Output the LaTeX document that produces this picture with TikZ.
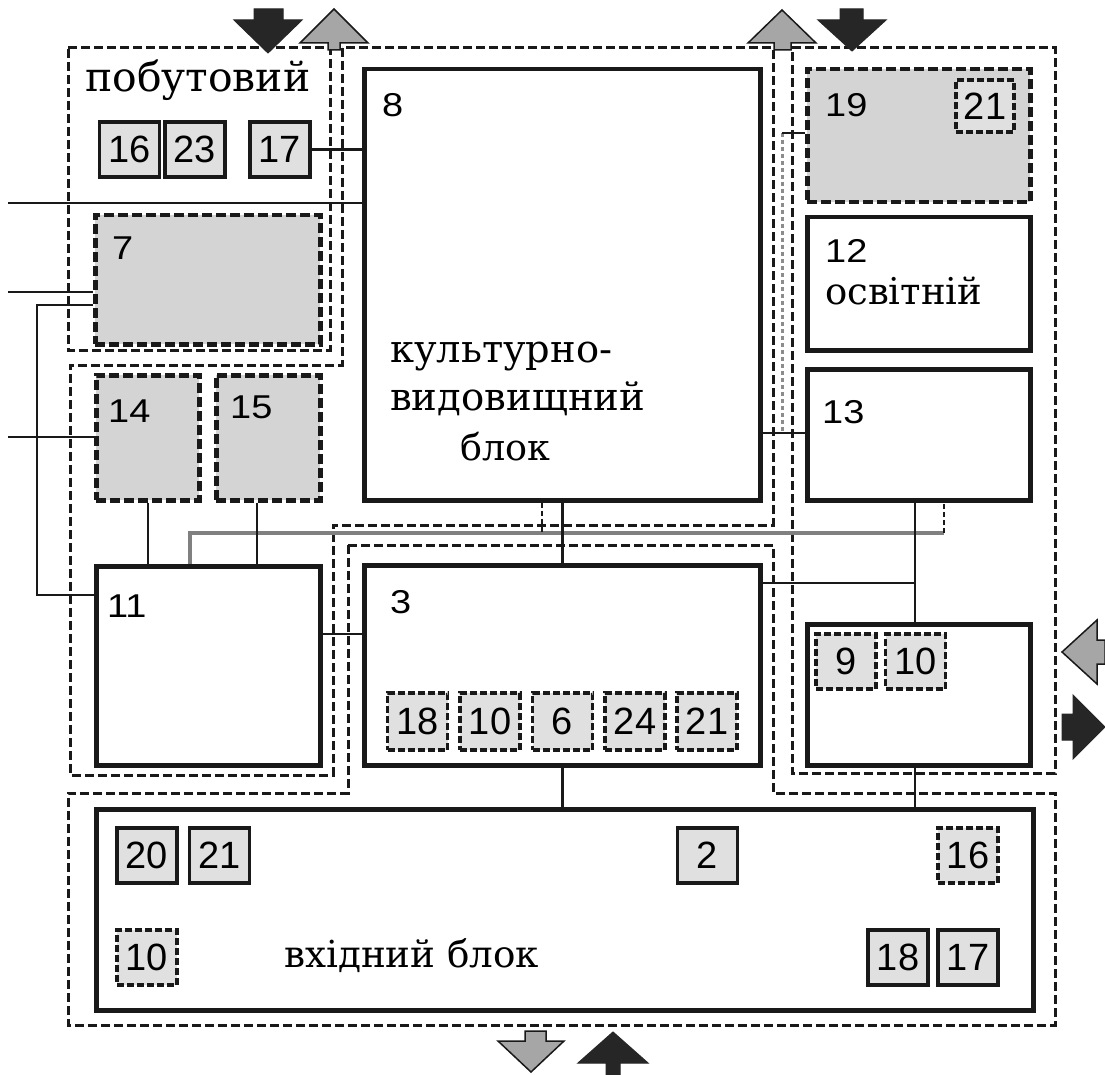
\documentclass[tikz,border=0pt]{standalone}
\usepackage{fontspec}
\usepackage{graphicx}
\setmainfont{Liberation Sans}
\newfontfamily\wordfont{DejaVu Serif}
\newcommand{\bnum}[1]{\scalebox{1.15}[1]{\fontsize{33}{33}\selectfont #1}}
\newcommand{\wtext}[2]{\resizebox{#1pt}{!}{\wordfont #2}}
\begin{document}
\begin{tikzpicture}[x=1pt,y=-1pt,
 blk/.style={draw=black!90,line width=4.5pt,fill=white,inner sep=0pt,anchor=north west},
 gblk/.style={draw=black!90,line width=4.5pt,dash pattern=on 10pt off 4pt,fill=black!17,inner sep=0pt,anchor=north west},
 nbox/.style={draw=black!90,line width=3.5pt,fill=black!12,minimum width=60pt,minimum height=55pt,inner sep=0pt,font=\fontsize{38}{38}\selectfont},
 dnbox/.style={nbox,dash pattern=on 7pt off 3pt},
 lbl/.style={anchor=base west,inner sep=0pt},
 zone/.style={draw=black!90,line width=3pt,dash pattern=on 9pt off 4pt},
 conn/.style={draw=black!90,line width=2.5pt},
 gconn/.style={draw=black!50,line width=4.5pt},
 darr/.style={fill=black!85,draw=black!85,line width=1pt},
 garr/.style={fill=black!35,draw=black!90,line width=1.5pt}]
\fill[white] (0,0) rectangle (1105,1075);
\useasboundingbox (0,0) rectangle (1105,1075);

% zones
\draw[zone] (68,48) -- (330,48) -- (330,350) -- (68,350) -- cycle;
\draw[zone] (342,48) -- (342,365) -- (70,365) -- (70,775) -- (333,775) -- (333,525) -- (773,525) -- (773,48) -- cycle;
\draw[zone] (792,48) -- (1055,48) -- (1055,773) -- (792,773) -- cycle;
\draw[zone] (348,545) -- (773,545) -- (773,793) -- (1055,793) -- (1055,1025) -- (68,1025) -- (68,793) -- (348,793) -- cycle;

% blocks
\node[blk,minimum width=396pt,minimum height=431pt] (b8) at (362,67) {};
\node[blk,minimum width=396pt,minimum height=200pt] (b3) at (362,563) {};
\node[gblk,minimum width=225pt,minimum height=129pt] (b7) at (93,213) {};
\node[gblk,minimum width=103pt,minimum height=125pt] (b14) at (94,373) {};
\node[gblk,minimum width=104pt,minimum height=125pt] (b15) at (214,373) {};
\node[blk,minimum width=224pt,minimum height=199pt] (b11) at (94,564) {};
\node[gblk,minimum width=223pt,minimum height=133pt] (b19) at (805,67) {};
\node[blk,minimum width=223pt,minimum height=133pt] (b12) at (805,215) {};
\node[blk,minimum width=223pt,minimum height=131pt] (b13) at (805,367) {};
\node[blk,minimum width=223pt,minimum height=141pt] (b910) at (805,622) {};
\node[blk,minimum width=937pt,minimum height=201pt] (bin) at (94,807) {};

% connectors
\coordinate (e1) at (8,203);
\coordinate (e2) at (8,292);
\coordinate (e3) at (8,437);
\coordinate (k1) at (37,305);
\coordinate (k2) at (37,595);
\coordinate (g1) at (190,533);
\coordinate (g2) at (944,533);
\coordinate (v1) at (915,583);
\coordinate (s1) at (782,133);
\coordinate (s2) at (782,433);
\draw[conn] (e1) -- (e1 -| b8.west);
\draw[conn] (e2) -- (e2 -| b7.west);
\draw[conn] (e3) -- (e3 -| b14.west);
\draw[conn] (k1 -| b7.west) -- (k1) -- (k2) -- (k2 -| b11.west);
\draw[gconn] (g1 |- b11.north) -- (g1) -- (g2);
\draw[conn,dash pattern=on 5pt off 3pt] (g2) -- (g2 |- b13.south);
\draw[conn,dash pattern=on 5pt off 3pt] (b8.south -| 542,0) -- (542,533);
\draw[conn] (b14.south) -- (b14.south |- b11.north);
\draw[conn] (b15.south -| 257,0) -- (b11.north -| 257,0);
\draw[conn] (b8.south) -- (b3.north);
\draw[conn] (b3.south) -- (b3.south |- bin.north);
\draw[conn] (b11.east |- 0,634) -- (b3.west |- 0,634);
\draw[conn] (b3.east |- v1) -- (v1);
\draw[conn] (b13.south -| v1) -- (b910.north -| v1);
\draw[conn] (b910.south -| v1) -- (bin.north -| v1);
\draw[conn] (b8.east |- s2) -- (b13.west |- s2);
\draw[draw=black!45,line width=3pt,dash pattern=on 4pt off 3pt] (s1) -- (s2);
\draw[conn] (s1) -- (s1 -| b19.west);

% small boxes
\node[nbox] (a16) at (129.5,149.5) {16};
\node[nbox] (a23) at (195,149.5) {23};
\node[nbox] (a17) at (280,149.5) {17};
\draw[conn] (a17.east) -- (a17.east -| b8.west);
\node[dnbox,minimum width=58pt,minimum height=52pt] (r21) at (985,106) {21};
\node[dnbox,minimum height=57pt] (c18) at (417.5,721.5) {18};
\node[dnbox,minimum height=57pt] (c10) at (490,721.5) {10};
\node[dnbox,minimum height=57pt] (c6) at (562.5,721.5) {6};
\node[dnbox,minimum height=57pt] (c24) at (635,721.5) {24};
\node[dnbox,minimum height=57pt] (c21) at (707,721.5) {21};
\node[dnbox] (r9) at (846,661.5) {9};
\node[dnbox] (r10) at (915.5,661.5) {10};
\node[nbox] (i20) at (147,855.5) {20};
\node[nbox] (i21) at (219.5,855.5) {21};
\node[nbox] (i2) at (707.5,855.5) {2};
\node[dnbox] (i16) at (968,855.5) {16};
\node[dnbox] (i10) at (147,957.5) {10};
\node[nbox] (i18) at (898,957.5) {18};
\node[nbox] (i17) at (968,957.5) {17};

% labels
\node[lbl] (t8) at (382,117) {\bnum{8}};
\node[lbl] (t7) at (112,260) {\bnum{7}};
\node[lbl] (t14) at (108,422) {\bnum{14}};
\node[lbl] (t15) at (230,418) {\bnum{15}};
\node[lbl] (t11) at (107,617) {\bnum{11}};
\node[lbl] (t19) at (825,117) {\bnum{19}};
\node[lbl] (t12) at (825,263) {\bnum{12}};
\node[lbl] (t13) at (822,423) {\bnum{13}};
\node[lbl] (t3) at (390,613) {\bnum{3}};
\node[lbl] (tpob) at (85,92) {\wtext{225}{побутовий}};
\node[lbl] (tk1) at (390,362) {\wtext{222}{культурно-}};
\node[lbl] (tk2) at (390,410) {\wtext{255}{видовищний}};
\node[lbl] (tk3) at (460,460) {\wtext{90}{блок}};
\node[lbl] (tosv) at (825,305) {\wtext{157}{освітній}};
\node[lbl] (tvh) at (284,967) {\wtext{255}{вхідний блок}};

% arrows
\draw[darr] (254,9) -- (283,9) -- (283,20) -- (302,20) -- (268,53) -- (234,20) -- (254,20) -- cycle;
\draw[garr] (334,9) -- (368,43) -- (340,43) -- (340,50) -- (328,50) -- (328,43) -- (300,43) -- cycle;
\draw[garr] (782,10) -- (816,43) -- (791,43) -- (791,50) -- (774,50) -- (774,43) -- (748,43) -- cycle;
\draw[darr] (840,9) -- (863,9) -- (863,20) -- (886,20) -- (852,51) -- (818,20) -- (840,20) -- cycle;
\draw[garr] (1062,652) -- (1097,620) -- (1097,640) -- (1105,640) -- (1105,664) -- (1097,664) -- (1097,684) -- cycle;
\draw[darr] (1105,727) -- (1073,695) -- (1073,714) -- (1062,714) -- (1062,740) -- (1073,740) -- (1073,759) -- cycle;
\draw[garr] (525,1031) -- (546,1031) -- (546,1041) -- (564,1041) -- (531,1072) -- (498,1041) -- (525,1041) -- cycle;
\draw[darr] (613,1032) -- (648,1063) -- (620,1063) -- (620,1075) -- (606,1075) -- (606,1063) -- (578,1063) -- cycle;
\end{tikzpicture}
\end{document}
